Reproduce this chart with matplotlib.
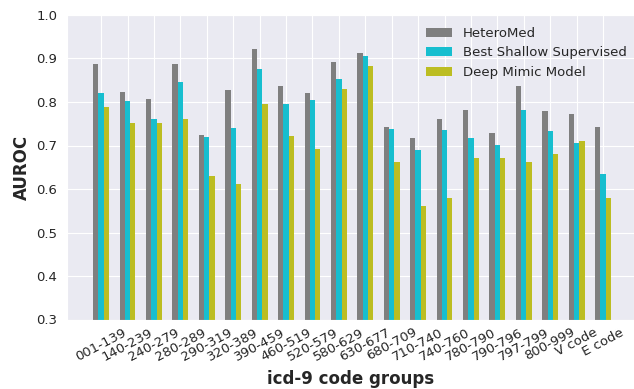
import numpy as np
import matplotlib
matplotlib.use("Agg")
import matplotlib.pyplot as plt
import seaborn as sns

categories = ["001-139", "140-239", "240-279", "280-289", "290-319", "320-389",
              "390-459", "460-519", "520-579", "580-629", "630-677", "680-709",
              "710-740", "740-760", "780-790", "790-796", "797-799", "800-999",
              "V code", "E code"]
heteromed = [0.887, 0.823, 0.807, 0.887, 0.725, 0.827, 0.922, 0.837, 0.821, 0.892,
             0.912, 0.742, 0.717, 0.762, 0.782, 0.728, 0.836, 0.779, 0.772, 0.742]
shallow = [0.821, 0.802, 0.761, 0.847, 0.719, 0.740, 0.876, 0.796, 0.804, 0.853,
           0.905, 0.738, 0.689, 0.735, 0.717, 0.702, 0.782, 0.733, 0.705, 0.635]
mimic = [0.788, 0.751, 0.751, 0.761, 0.631, 0.611, 0.796, 0.722, 0.691, 0.831,
         0.882, 0.662, 0.561, 0.580, 0.672, 0.672, 0.662, 0.681, 0.711, 0.580]
series_names = ["HeteroMed", "Best Shallow Supervised", "Deep Mimic Model"]
colors = ["#7f7f7f", "#17becf", "#bcbd22"]

sns.set_style("darkgrid")
plt.rcParams['font.family'] = ['DejaVu Sans']

fig = plt.figure(figsize=(6.34, 3.89), dpi=100)
ax = fig.add_axes([67/634, 1 - 319.5/389, 1 - 67/634, (319.5 - 15) / 389])

x = np.arange(len(categories))
w = 0.2
for i, (vals, name, c) in enumerate(zip([heteromed, shallow, mimic], series_names, colors)):
    ax.bar(x + (i - 1) * w, vals, width=w, color=c, label=name, linewidth=0)

ax.set_ylim(0.3, 1.0)
ax.set_xlim(-1.29, 20.17)
ax.set_xticks(x)
ax.set_xticklabels(categories, rotation=28, fontsize=9.5)
ax.tick_params(axis='x', pad=1)
ax.tick_params(axis='y', labelsize=9.5)
ax.set_ylabel("AUROC", fontsize=12, fontweight='bold')
ax.set_xlabel("icd-9 code groups", fontsize=12, fontweight='bold', labelpad=5)
ax.legend(loc='upper right', frameon=False, fontsize=9.5, bbox_to_anchor=(1.008, 1.0))

fig.savefig("out.png", dpi=100)
